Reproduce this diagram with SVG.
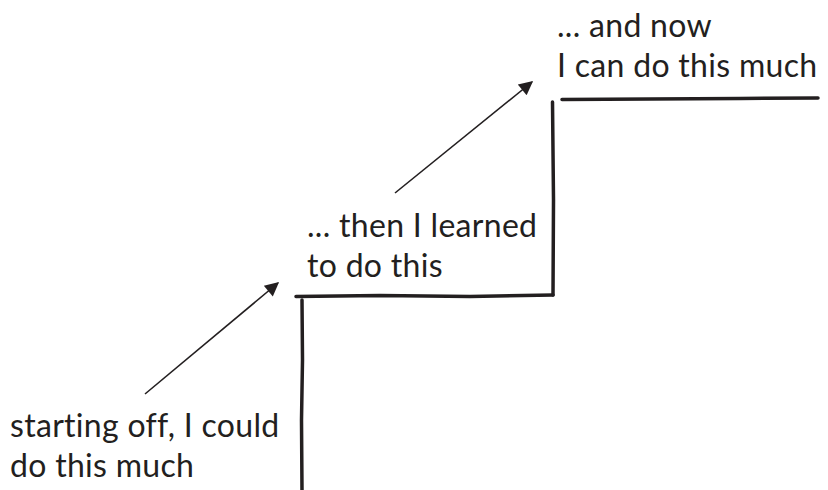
<svg xmlns="http://www.w3.org/2000/svg" width="828" height="490" viewBox="0 0 828 490">
  <style>
    .label { font-family: Lato, "Open Sans", "Liberation Sans", sans-serif; font-size: 32px; letter-spacing: 0.3px; fill: #231f20; }
    .step { fill: none; stroke: #231f20; stroke-width: 3.5; stroke-linecap: round; stroke-linejoin: round; }
    .arrow { fill: none; stroke: #231f20; stroke-width: 1.6; }
  </style>
  <defs>
    <marker id="head" viewBox="0 0 10 10" refX="9" refY="5" markerWidth="18" markerHeight="14" markerUnits="userSpaceOnUse" orient="auto">
      <path d="M0,0 L10,5 L0,10 z" fill="#231f20"/>
    </marker>
  </defs>
  <rect width="828" height="490" fill="#ffffff"/>

  <!-- staircase outline -->
  <g id="stairs">
    <path class="step" d="M302,300 L302.5,360 L301.5,420 L302,490"/>
    <path class="step" d="M296,296.5 L380,295.5 L470,296.5 L553,295"/>
    <path class="step" d="M553,295 L553.5,200 L552.5,102"/>
    <path class="step" d="M562,99.5 L650,99 L740,98.5 L818,98"/>
  </g>

  <g id="step-start">
    <text class="label" x="10" y="437">starting off, I could</text>
    <text class="label" x="10" y="477">do this much</text>
  </g>
  <g id="step-middle">
    <text class="label" x="307" y="237">... then I learned</text>
    <text class="label" x="307" y="277">to do this</text>
  </g>
  <g id="step-top">
    <text class="label" x="557" y="37">... and now</text>
    <text class="label" x="557" y="77">I can do this much</text>
  </g>

  <g id="connectors">
    <line class="arrow" x1="145" y1="394" x2="278" y2="283" marker-end="url(#head)"/>
    <line class="arrow" x1="395" y1="193" x2="532" y2="82" marker-end="url(#head)"/>
  </g>
</svg>
